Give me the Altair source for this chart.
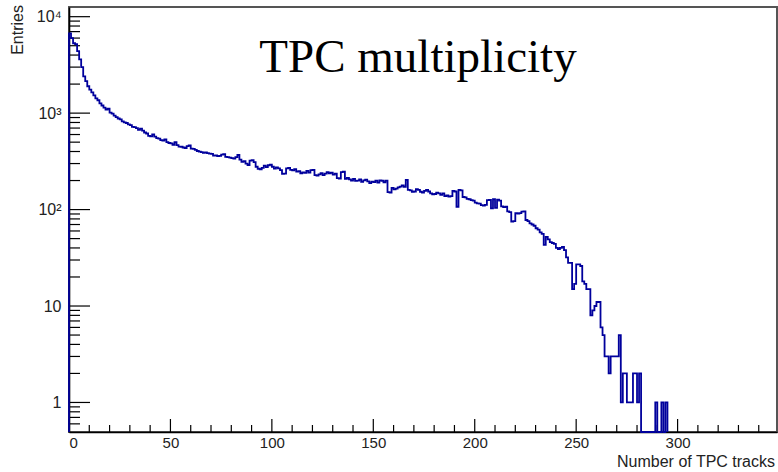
import altair as alt
import pandas as pd

# ---- data (counts per bin, bin width = 1 track) ----
counts = [
    6700, 6000, 5300, 5200, 4400, 3600, 3000, 2400, 2150, 1900,
    1750, 1640, 1530, 1420, 1360, 1260, 1200, 1140, 1090, 1110,
    1010, 990, 940, 910, 880, 860, 820, 800, 790, 765,
    750, 720, 715, 700, 670, 690, 660, 630, 615, 580,
    575, 600, 570, 550, 545, 525, 520, 535, 500, 490,
    485, 470, 500, 465, 450, 448, 440, 435, 455, 462,
    428, 425, 415, 405, 398, 395, 388, 392, 385, 380,
    378, 362, 365, 358, 360, 372, 375, 352, 350, 345,
    342, 338, 350, 368, 330, 312, 318, 300, 290, 322,
    325, 310, 278, 265, 262, 270, 285, 275, 288, 292,
    278, 266, 274, 268, 256, 235, 236, 268, 270, 258,
    255, 262, 248, 250, 238, 243, 240, 252, 242, 257,
    258, 228, 225, 232, 238, 228, 236, 244, 238, 242,
    230, 236, 212, 210, 245, 248, 208, 213, 206, 200,
    208, 198, 200, 205, 194, 201, 204, 196, 188, 195,
    193, 200, 190, 201, 199, 192, 200, 152, 150, 168,
    162, 165, 170, 173, 178, 172, 203, 160, 158, 153,
    154, 163, 160, 153, 150, 156, 160, 154, 147, 144,
    145, 150, 147, 142, 147, 138, 140, 136, 138, 156,
    154, 107, 160, 158, 135, 134, 129, 128, 125, 124,
    118, 116, 115, 111, 110, 112, 125, 126, 103, 128,
    104, 127, 124, 108, 106, 107, 96, 94, 75, 76,
    92, 91, 92, 95, 96, 78, 76, 72, 70, 68,
    64, 62, 58, 56, 43, 52, 49, 46, 45, 44,
    40, 39, 40, 41, 38, 32, 28, 28, 15, 17,
    27, 27, 26, 18, 17, 15, 15, 8, 9, 10,
    11, 11, 6, 5, 3, 3, 2, 3, 3, 3,
    3, 5, 1, 2, 2, 1, 1, 1, 2, 2,
    1, 2, 0, 0, 0, 0, 0, 0, 0, 1,
    0, 0, 1, 0, 1,
]
bin_width = 1

x_major_ticks = [0, 50, 100, 150, 200, 250, 300]
x_minor_ticks = [v for v in range(10, 350, 10) if v % 50 != 0]
y_major_ticks = [1, 10, 100, 1000, 10000]
y_minor_ticks = [0.6, 0.7, 0.8, 0.9] + [m * d for d in (1, 10, 100, 1000) for m in range(2, 10)]
x_domain = [0, 349]
y_domain = [0.494, 12600]

title_text = ["TPC multiplicity"]
y_title = ["Entries"]
x_title = ["Number of TPC tracks"]

# ---- build step outline table ----
rows = [(0, 0.0, 0)]
for i, c in enumerate(counts):
    rows.append((i + 1, i * bin_width, c))
rows.append((len(counts) + 1, len(counts) * bin_width, 0))
hist = pd.DataFrame(rows, columns=["order", "x", "count"])

W, H = 708, 425

xs = alt.Scale(domain=x_domain, nice=False, zero=False)
ys = alt.Scale(type="log", domain=y_domain, nice=False, clamp=True)

x_axis = alt.Axis(
    values=x_major_ticks, ticks=False, tickSize=0, grid=False, title=None,
    labelFont="Liberation Sans", labelFontSize=15, labelColor="#222222",
    labelPadding=3, domainColor="black", domainWidth=1.6,
)
y_axis = alt.Axis(
    values=y_major_ticks, ticks=False, tickSize=0, grid=False, title=None,
    labelFont="Liberation Sans", labelFontSize=16, labelColor="#222222",
    labelPadding=8, domainColor="black", domainWidth=1.6,
    labelExpr="datum.value == 10000 ? '10\u2074' : datum.value == 1000 ? '10\u00b3' : datum.value == 100 ? '10\u00b2' : datum.value == 10 ? '10' : '1'",
)

line = alt.Chart(hist).transform_calculate(
    yv="max(datum.count, 0.1)"
).mark_line(interpolate="step-after", color="#00009c", strokeWidth=1.8).encode(
    x=alt.X("x:Q", scale=xs, axis=x_axis),
    y=alt.Y("yv:Q", scale=ys, axis=y_axis),
    order="order:Q",
)

xt_major = alt.Chart(pd.DataFrame({"x": x_major_ticks})).mark_rule(color="black", strokeWidth=1.2).encode(
    x=alt.X("x:Q", scale=xs, axis=x_axis), y=alt.value(H), y2=alt.value(H - 13)
)
xt_minor = alt.Chart(pd.DataFrame({"x": x_minor_ticks})).mark_rule(color="black", strokeWidth=1.2).encode(
    x=alt.X("x:Q", scale=xs, axis=x_axis), y=alt.value(H), y2=alt.value(H - 7)
)
yt_major = alt.Chart(pd.DataFrame({"v": y_major_ticks})).mark_rule(color="black", strokeWidth=1.2).encode(
    y=alt.Y("v:Q", scale=ys, axis=y_axis), x=alt.value(0), x2=alt.value(21)
)
yt_minor = alt.Chart(pd.DataFrame({"v": y_minor_ticks})).mark_rule(color="black", strokeWidth=1.2).encode(
    y=alt.Y("v:Q", scale=ys, axis=y_axis), x=alt.value(0), x2=alt.value(11)
)

title = alt.Chart(pd.DataFrame({"t": title_text})).mark_text(
    font="Liberation Serif", fontSize=47, color="black", align="center", baseline="alphabetic"
).encode(text="t:N", x=alt.value(349), y=alt.value(65))

ytitle = alt.Chart(pd.DataFrame({"t": y_title})).mark_text(
    font="Liberation Sans", fontSize=16, color="#222222", align="right", baseline="middle", angle=270
).encode(text="t:N", x=alt.value(-51), y=alt.value(-2))

xtitle = alt.Chart(pd.DataFrame({"t": x_title})).mark_text(
    font="Liberation Sans", fontSize=16, color="#222222", align="right", baseline="middle"
).encode(text="t:N", x=alt.value(706), y=alt.value(455))

chart = alt.layer(
    xt_major, xt_minor, yt_major, yt_minor, line, title, ytitle, xtitle
).properties(
    width=W, height=H,
    padding={"left": 69, "top": 7, "right": 1, "bottom": 40},
    autosize=alt.AutoSizeParams(type="none"),
    background="white",
).configure_view(stroke="#555555", strokeWidth=2)

chart.save("out.html", embed_options={"renderer": "svg", "actions": False})
